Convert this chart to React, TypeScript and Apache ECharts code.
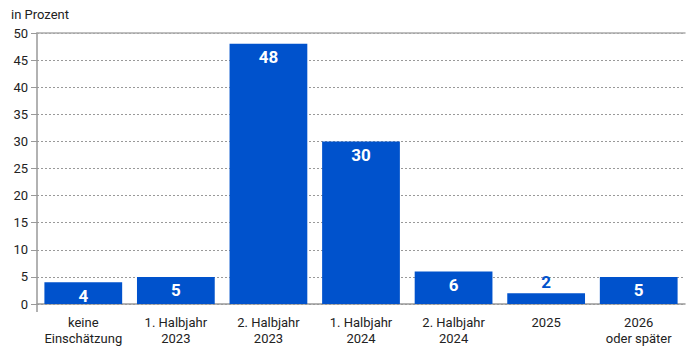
import React, { useEffect, useRef } from "react";
import * as echarts from "echarts";

const categories = [
  "keine\nEinschätzung",
  "1. Halbjahr\n2023",
  "2. Halbjahr\n2023",
  "1. Halbjahr\n2024",
  "2. Halbjahr\n2024",
  "2025",
  "2026\noder später",
];
const values = [4, 5, 48, 30, 6, 2, 5];
const yTicks = { min: 0, max: 50, interval: 5 };
const unitLabel = "in Prozent";

const BLUE = "#0052cc";
const FONT = "Roboto, 'Noto Sans', sans-serif";

export default function App() {
  const ref = useRef<HTMLDivElement>(null);
  useEffect(() => {
    if (!ref.current) return;
    const chart = echarts.init(ref.current, undefined, { renderer: "svg" });
    const gridLeft = 37;
    const gridBottom = 50;
    chart.setOption({
      animation: false,
      textStyle: { fontFamily: FONT },
      grid: { left: gridLeft, right: 15, top: 33, bottom: gridBottom },
      graphic: [
        {
          type: "text",
          left: 11,
          top: 8,
          style: { text: unitLabel, fontSize: 13, fill: "#222", fontFamily: FONT },
        },
        {
          type: "line",
          shape: { x1: gridLeft, y1: 354 - gridBottom, x2: gridLeft, y2: 354 - gridBottom + 8 },
          style: { stroke: "#999", lineWidth: 1.5 },
        },
      ],
      xAxis: [
        {
          type: "category",
          data: categories,
          axisLine: { lineStyle: { color: "#999", width: 1.5 } },
          axisTick: { alignWithLabel: true, length: 8, lineStyle: { color: "#999" } },
          axisLabel: { color: "#222", fontSize: 13, lineHeight: 16, margin: 10, fontFamily: FONT, interval: 0 },
        },
        {
          type: "category",
          position: "top",
          data: categories,
          axisLine: { show: true, lineStyle: { color: "#aaa", width: 1.5 } },
          axisTick: { show: false },
          axisLabel: { show: false },
        },
      ],
      yAxis: {
        type: "value",
        min: yTicks.min,
        max: yTicks.max,
        interval: yTicks.interval,
        axisLine: { show: true, lineStyle: { color: "#999", width: 1.5 } },
        axisTick: { show: true, length: 6, lineStyle: { color: "#999" } },
        axisLabel: { color: "#222", fontSize: 13, margin: 9, fontFamily: FONT },
        splitLine: { lineStyle: { color: "#999", type: [2, 2], width: 1 } },
      },
      series: [
        {
          type: "bar",
          data: values.map((v) => {
            const small = v < 3;
            return {
              value: v,
              label: small
                ? { position: "top", color: BLUE, distance: 3 }
                : { position: "insideTop", color: "#fff", distance: 5 },
            };
          }),
          barCategoryGap: "16%",
          itemStyle: { color: BLUE },
          label: {
            show: true,
            fontSize: 17,
            fontWeight: "bold",
            fontFamily: FONT,
          },
        },
      ],
    });
    return () => chart.dispose();
  }, []);
  return <div ref={ref} style={{ width: 700, height: 354, position: "absolute", left: 0, top: 0 }} />;
}
